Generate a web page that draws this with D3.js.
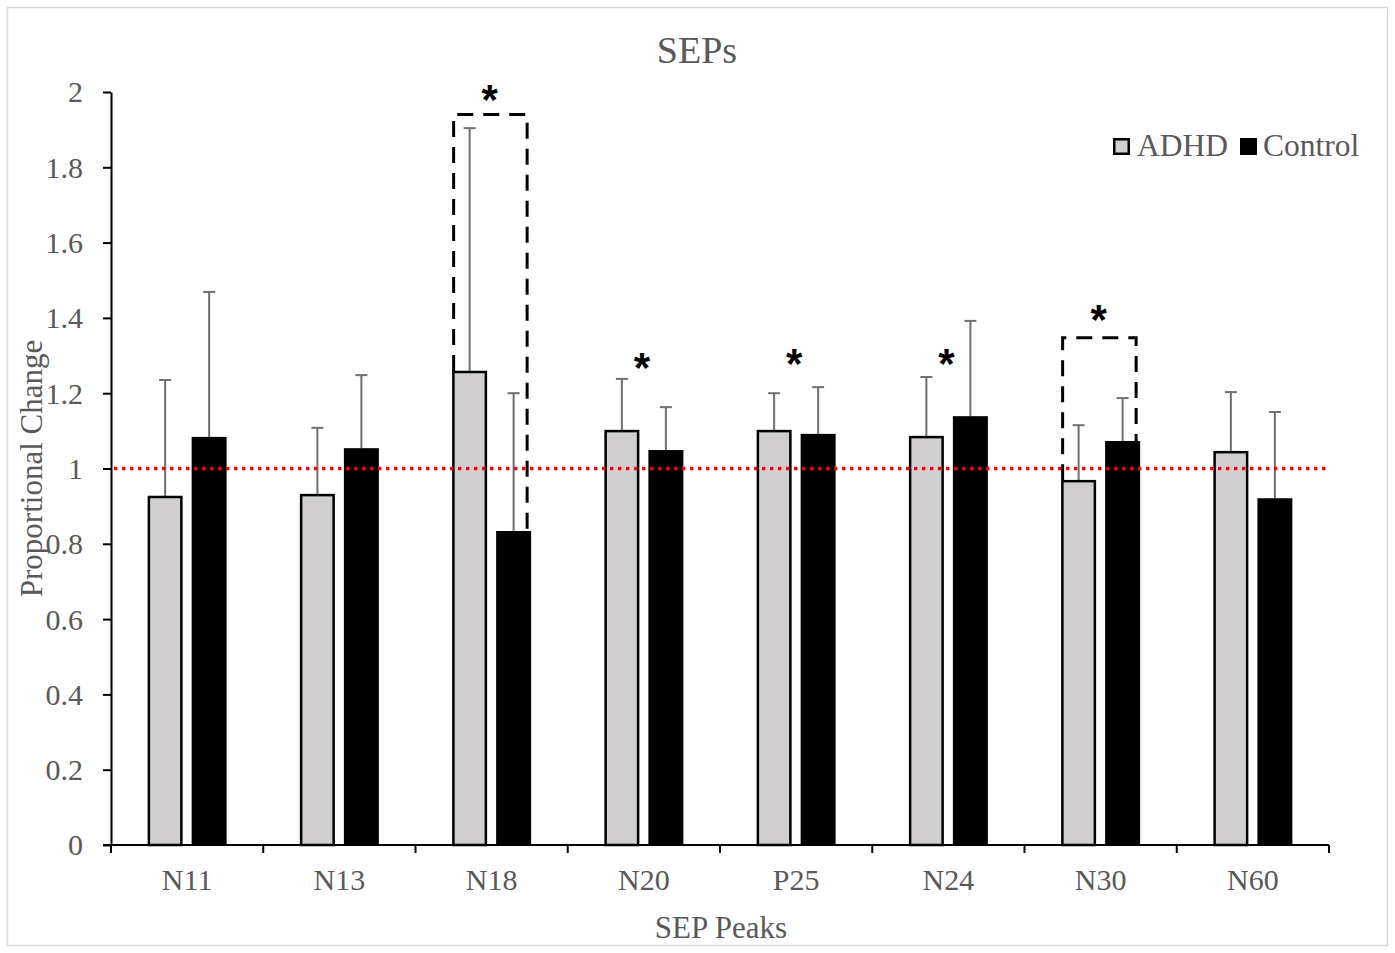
<!DOCTYPE html>
<html><head><meta charset="utf-8">
<script src="https://cdn.jsdelivr.net/npm/d3@7"></script>
<style>body{margin:0;background:#fff;} svg{display:block;}</style>
</head><body>
<svg id="c" width="1395" height="953"></svg>
<script>
const categories = ["N11","N13","N18","N20","P25","N24","N30","N60"];
const seriesNames = ["ADHD","Control"];
const adhdMean = [0.927,0.932,1.259,1.102,1.102,1.086,0.969,1.046];
const adhdErr  = [0.308,0.176,0.645,0.136,0.098,0.157,0.146,0.157];
const ctrlMean = [1.084,1.054,0.834,1.049,1.092,1.139,1.073,0.921];
const ctrlErr  = [0.385,0.194,0.366,0.114,0.124,0.253,0.114,0.229];
const yTicks = [0,0.2,0.4,0.6,0.8,1,1.2,1.4,1.6,1.8,2];
const refLine = 1;
const starCats = ["N18","N20","P25","N24","N30"];
const starVals = [2.0,1.289,1.30,1.30,1.416];
const boxCats = ["N18","N30"];
const boxTop = [1.94,1.347];

const svg = d3.select("#c");
svg.append("rect").attr("x",7.5).attr("y",7.5).attr("width",1380).attr("height",938)
  .attr("fill","#fff").attr("stroke","#d9d9d9").attr("stroke-width",1.5);

const m={l:111,r:1329,t:92,b:845};
const x=d3.scaleBand().domain(categories).range([m.l,m.r]);
const xs=d3.scaleBand().domain(seriesNames).range([0,79]).paddingInner(2-79/44);
const y=d3.scaleLinear().domain([0,2]).range([m.b,m.t]);
const off = (x.bandwidth()-79)/2;
const font="'Liberation Serif','Times New Roman',serif";
const grey="#595959";

// title
svg.append("text").attr("x",697).attr("y",63).attr("text-anchor","middle")
  .attr("font-family",font).attr("font-size",38).attr("fill",grey).text("SEPs");

// y axis
const ya=svg.append("g").attr("transform",`translate(${m.l},0)`)
  .call(d3.axisLeft(y).tickValues(yTicks).tickSize(8).tickSizeOuter(0).tickFormat(d3.format("~g")));
ya.select(".domain").attr("stroke","#000").attr("stroke-width",2);
ya.selectAll(".tick line").attr("stroke","#000").attr("stroke-width",2);
ya.selectAll(".tick text").attr("font-family",font).attr("font-size",30).attr("fill",grey).attr("x",-28).attr("dy","0.33em");

// bars
const rows = categories.map((c,i)=>({c,vals:[
  {s:"ADHD",v:adhdMean[i],e:adhdErr[i]},{s:"Control",v:ctrlMean[i],e:ctrlErr[i]}]}));
const g=svg.append("g");
rows.forEach(r=>{
  r.vals.forEach(d=>{
    const bx=x(r.c)+off+xs(d.s), bw=xs.bandwidth();
    const cx=bx+bw/2;
    g.append("line").attr("x1",cx).attr("x2",cx).attr("y1",y(d.v)).attr("y2",y(d.v+d.e))
      .attr("stroke","#6f6f6f").attr("stroke-width",2);
    g.append("line").attr("x1",cx-6).attr("x2",cx+6).attr("y1",y(d.v+d.e)).attr("y2",y(d.v+d.e))
      .attr("stroke","#6f6f6f").attr("stroke-width",2);
    if(d.s==="ADHD"){
      g.append("rect").attr("x",bx+1.25).attr("y",y(d.v)+1).attr("width",bw-2.5).attr("height",y(0)-y(d.v)-1)
        .attr("fill","#d0cece").attr("stroke","#000").attr("stroke-width",2.5);
    } else {
      g.append("rect").attr("x",bx).attr("y",y(d.v)).attr("width",bw).attr("height",y(0)-y(d.v))
        .attr("fill","#000");
    }
  });
});

// x axis
const xa=svg.append("g").attr("transform",`translate(0,${m.b})`)
  .call(d3.axisBottom(x).tickSize(0).tickSizeOuter(0));
xa.select(".domain").attr("stroke","#000").attr("stroke-width",2).attr("d",`M${m.l-8},0H${m.r}`);
xa.selectAll(".tick text").attr("font-family",font).attr("font-size",30).attr("fill",grey).attr("y",45).attr("dy",0);
const bounds=categories.map(c=>x(c)).concat([m.r]);
svg.append("g").selectAll("line").data(bounds).join("line")
  .attr("x1",d=>d).attr("x2",d=>d).attr("y1",m.b).attr("y2",m.b+8).attr("stroke","#000").attr("stroke-width",2);

// red reference line
svg.append("line").attr("x1",m.l+3).attr("x2",m.r).attr("y1",y(refLine)).attr("y2",y(refLine))
  .attr("stroke","#ff0000").attr("stroke-width",3.3).attr("stroke-dasharray","3.3,4.7");

// dashed boxes
boxCats.forEach((c,i)=>{
  const ci=categories.indexOf(c);
  const lx=x(c)+off+xs("ADHD")+1.5, rx=x(c)+off+xs("Control")+xs.bandwidth()-4;
  const ty=y(boxTop[i]);
  svg.append("path").attr("d",`M${lx},${y(adhdMean[ci])}V${ty}H${rx}V${y(ctrlMean[ci])}`)
    .attr("fill","none").attr("stroke","#000").attr("stroke-width",3).attr("stroke-dasharray","16,10");
});

// stars
starCats.forEach((c,i)=>{
  svg.append("text").attr("x",x(c)+x.bandwidth()/2-2).attr("y",y(starVals[i])+22).attr("text-anchor","middle")
    .attr("font-family","'Liberation Sans',Arial,sans-serif").attr("font-weight","bold").attr("font-size",42)
    .attr("fill","#000").text("*");
});

// axis titles
svg.append("text").attr("transform",`translate(42,${(m.t+m.b)/2}) rotate(-90)`).attr("text-anchor","middle")
  .attr("font-family",font).attr("font-size",31).attr("fill",grey).text("Proportional Change");
svg.append("text").attr("x",721).attr("y",938).attr("text-anchor","middle")
  .attr("font-family",font).attr("font-size",31).attr("fill",grey).text("SEP Peaks");

// legend
const lg=svg.append("g");
const legX=[1113,1240];
seriesNames.forEach((s,i)=>{
  lg.append("rect").attr("x",legX[i]+(i?0:1.25)).attr("y",138+(i?0:1.25)).attr("width",i?17:14.5).attr("height",i?17:14.5)
    .attr("fill",i?"#000":"#d0cece").attr("stroke",i?"none":"#000").attr("stroke-width",2.5);
  lg.append("text").attr("x",legX[i]+(i?23:24)).attr("y",156).attr("font-family",font).attr("font-size",31.5)
    .attr("fill",grey).text(s);
});
</script>
</body></html>
